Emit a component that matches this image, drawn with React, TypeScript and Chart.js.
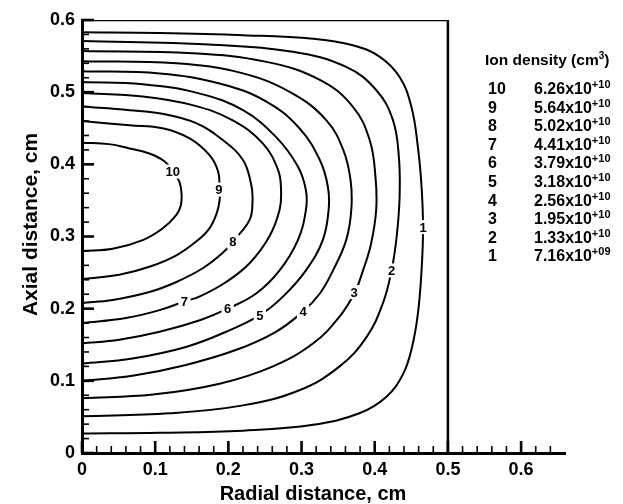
import React, { useEffect, useRef } from "react";
import { Chart, registerables } from "chart.js";

Chart.register(...registerables);

// ---- Data -------------------------------------------------------------
const c1x = [0, 0.106, 0.22, 0.316, 0.37, 0.407, 0.434, 0.45, 0.459, 0.464, 0.466, 0.464, 0.459, 0.451, 0.439, 0.416, 0.379, 0.316, 0.22, 0.106, 0];
const c1y = [0.583, 0.582, 0.579, 0.574, 0.565, 0.549, 0.521, 0.48, 0.424, 0.369, 0.311, 0.253, 0.193, 0.147, 0.11, 0.078, 0.055, 0.039, 0.031, 0.028, 0.027];

const c2x = [0, 0.174, 0.288, 0.361, 0.402, 0.425, 0.433, 0.434, 0.43, 0.423, 0.411, 0.389, 0.352, 0.297, 0.22, 0.119, 0];
const c2y = [0.571, 0.566, 0.556, 0.535, 0.503, 0.461, 0.41, 0.355, 0.3, 0.253, 0.207, 0.161, 0.12, 0.087, 0.066, 0.055, 0.051];

const c3x = [0, 0.151, 0.252, 0.325, 0.37, 0.393, 0.401, 0.402, 0.395, 0.384, 0.373, 0.352, 0.316, 0.261, 0.188, 0.097, 0];
const c3y = [0.557, 0.554, 0.542, 0.517, 0.48, 0.434, 0.383, 0.337, 0.29, 0.253, 0.223, 0.189, 0.152, 0.12, 0.096, 0.081, 0.076];

const c4x = [0, 0.129, 0.22, 0.288, 0.334, 0.357, 0.367, 0.368, 0.361, 0.343, 0.325, 0.302, 0.265, 0.211, 0.142, 0.069, 0];
const c4y = [0.543, 0.54, 0.526, 0.498, 0.461, 0.42, 0.378, 0.337, 0.295, 0.253, 0.221, 0.196, 0.168, 0.143, 0.122, 0.107, 0.1];

const c5x = [0, 0.106, 0.188, 0.252, 0.297, 0.325, 0.336, 0.337, 0.329, 0.306, 0.275, 0.243, 0.197, 0.142, 0.069, 0];
const c5y = [0.529, 0.526, 0.512, 0.487, 0.45, 0.406, 0.369, 0.337, 0.295, 0.253, 0.217, 0.191, 0.168, 0.147, 0.131, 0.124];

const c6x = [0, 0.083, 0.161, 0.22, 0.265, 0.295, 0.306, 0.306, 0.295, 0.27, 0.238, 0.199, 0.161, 0.106, 0.051, 0];
const c6y = [0.514, 0.511, 0.498, 0.475, 0.438, 0.397, 0.364, 0.337, 0.295, 0.253, 0.221, 0.2, 0.184, 0.168, 0.157, 0.152];

const c7x = [0, 0.083, 0.151, 0.206, 0.247, 0.268, 0.272, 0.27, 0.256, 0.229, 0.197, 0.161, 0.14, 0.106, 0.06, 0];
const c7y = [0.499, 0.494, 0.482, 0.461, 0.429, 0.392, 0.364, 0.337, 0.3, 0.263, 0.237, 0.217, 0.21, 0.198, 0.187, 0.18];

const c8x = [0, 0.065, 0.11, 0.156, 0.192, 0.22, 0.231, 0.233, 0.229, 0.206, 0.192, 0.165, 0.129, 0.092, 0.042, 0];
const c8y = [0.48, 0.475, 0.47, 0.457, 0.434, 0.406, 0.373, 0.35, 0.323, 0.293, 0.277, 0.256, 0.237, 0.223, 0.212, 0.208];

const c9x = [0, 0.065, 0.11, 0.147, 0.174, 0.186, 0.188, 0.188, 0.184, 0.174, 0.156, 0.129, 0.092, 0.051, 0];
const c9y = [0.46, 0.454, 0.45, 0.436, 0.413, 0.39, 0.365, 0.35, 0.332, 0.311, 0.293, 0.274, 0.258, 0.247, 0.241];

const c10x = [0, 0.037, 0.065, 0.092, 0.113, 0.124, 0.133, 0.136, 0.135, 0.129, 0.11, 0.083, 0.042, 0];
const c10y = [0.43, 0.428, 0.422, 0.415, 0.404, 0.39, 0.376, 0.36, 0.343, 0.33, 0.311, 0.295, 0.283, 0.28];

const contourXs = [c1x, c2x, c3x, c4x, c5x, c6x, c7x, c8x, c9x, c10x];
const contourYs = [c1y, c2y, c3y, c4y, c5y, c6y, c7y, c8y, c9y, c10y];

// inline contour labels (level number and where it sits on its line)
const labelText = ["1", "2", "3", "4", "5", "6", "7", "8", "9", "10"];
const labelX = [0.466, 0.423, 0.372, 0.302, 0.243, 0.199, 0.14, 0.206, 0.187, 0.124];
const labelY = [0.313, 0.253, 0.223, 0.196, 0.191, 0.2, 0.21, 0.293, 0.365, 0.39];

// domain frame (top edge and right wall)
const frameX = [0, 0.5, 0.5];
const frameY = [0.6, 0.6, 0];

// legend table
const legendLevels = ["10", "9", "8", "7", "6", "5", "4", "3", "2", "1"];
const legendMantissa = ["6.26x10", "5.64x10", "5.02x10", "4.41x10", "3.79x10", "3.18x10", "2.56x10", "1.95x10", "1.33x10", "7.16x10"];
const legendExponent = ["+10", "+10", "+10", "+10", "+10", "+10", "+10", "+10", "+10", "+09"];

// axes
const xMajorTicks = [0, 0.1, 0.2, 0.3, 0.4, 0.5, 0.6];
const xMinorTicks = [0.02, 0.04, 0.06, 0.08, 0.12, 0.14, 0.16, 0.18, 0.22, 0.24, 0.26, 0.28, 0.32, 0.34, 0.36, 0.38, 0.42, 0.44, 0.46, 0.48, 0.52, 0.54, 0.56, 0.58, 0.62, 0.64];
const yMajorTicks = [0, 0.1, 0.2, 0.3, 0.4, 0.5, 0.6];
const yMinorTicks = [0.02, 0.04, 0.06, 0.08, 0.12, 0.14, 0.16, 0.18, 0.22, 0.24, 0.26, 0.28, 0.32, 0.34, 0.36, 0.38, 0.42, 0.44, 0.46, 0.48, 0.52, 0.54, 0.56, 0.58];
const xTitle = "Radial distance, cm";
const yTitle = "Axial distance, cm";

const FONT = '"Liberation Sans", Arial, Helvetica, sans-serif';

const inwardTicks = {
  id: "inwardTicks",
  afterDraw(chart: any) {
    const { ctx, chartArea, scales } = chart;
    const xs = scales.x;
    const ys = scales.y;
    ctx.save();
    ctx.strokeStyle = "#000";
    ctx.lineCap = "butt";
    const drawX = (vals: number[], len: number, w: number) => {
      ctx.lineWidth = w;
      vals.forEach((v) => {
        const px = xs.getPixelForValue(v);
        ctx.beginPath();
        ctx.moveTo(px, chartArea.bottom);
        ctx.lineTo(px, chartArea.bottom - len);
        ctx.stroke();
      });
    };
    const drawY = (vals: number[], len: number, w: number) => {
      ctx.lineWidth = w;
      vals.forEach((v) => {
        const py = ys.getPixelForValue(v);
        ctx.beginPath();
        ctx.moveTo(chartArea.left, py);
        ctx.lineTo(chartArea.left + len, py);
        ctx.stroke();
      });
    };
    drawX(xMinorTicks, 7, 1.6);
    drawX(xMajorTicks, 12, 2.6);
    drawY(yMinorTicks, 7, 1.6);
    drawY(yMajorTicks, 12, 2.6);

    // axis titles
    ctx.fillStyle = "#000";
    ctx.font = `bold 20px ${FONT}`;
    ctx.textAlign = "center";
    ctx.textBaseline = "alphabetic";
    ctx.fillText(xTitle, chartArea.left + 231, chartArea.bottom + 47);
    ctx.translate(chartArea.left - 45, (chartArea.top + chartArea.bottom) / 2 - 12);
    ctx.rotate(-Math.PI / 2);
    ctx.font = `bold 21px ${FONT}`;
    ctx.fillText(yTitle, 0, 0);
    ctx.restore();
  },
};

const contourLabels = {
  id: "contourLabels",
  afterDatasetsDraw(chart: any) {
    const { ctx, scales } = chart;
    ctx.save();
    ctx.font = `bold 13px ${FONT}`;
    ctx.textAlign = "center";
    ctx.textBaseline = "middle";
    labelText.forEach((t, i) => {
      const px = scales.x.getPixelForValue(labelX[i]);
      const py = scales.y.getPixelForValue(labelY[i]);
      const w = ctx.measureText(t).width + 5;
      ctx.fillStyle = "#fff";
      ctx.fillRect(px - w / 2, py - 7, w, 14);
      ctx.fillStyle = "#000";
      ctx.fillText(t, px, py + 1);
    });
    ctx.restore();
  },
};

export default function App() {
  const canvasRef = useRef<HTMLCanvasElement | null>(null);

  useEffect(() => {
    if (!canvasRef.current) return;
    const datasets: any[] = contourXs.map((xs, i) => ({
      label: `level ${i + 1}`,
      data: xs.map((x, j) => ({ x, y: contourYs[i][j] })),
      showLine: true,
      borderColor: "#000",
      borderWidth: 2,
      pointRadius: 0,
      tension: 0.4,
      fill: false,
    }));
    datasets.push({
      label: "frame",
      data: frameX.map((x, j) => ({ x, y: frameY[j] })),
      showLine: true,
      borderColor: "#000",
      borderWidth: 2.5,
      pointRadius: 0,
      tension: 0,
      fill: false,
    });

    const chart = new Chart(canvasRef.current, {
      type: "scatter",
      data: { datasets },
      options: {
        animation: false,
        responsive: false,
        events: [],
        layout: { padding: { left: 0, top: 20, right: 58, bottom: 0 } },
        plugins: { legend: { display: false }, tooltip: { enabled: false } },
        scales: {
          x: {
            type: "linear",
            min: 0,
            max: 0.66,
            afterFit: (s: any) => {
              s.height = 51;
            },
            border: { display: true, color: "#000", width: 3 },
            grid: { display: true, drawOnChartArea: false, drawTicks: false },
            ticks: {
              stepSize: 0.1,
              includeBounds: false,
              padding: 6,
              color: "#000",
              font: { family: FONT, size: 18, weight: "bold" },
              maxRotation: 0,
              callback: (v: any) => (Number(v) === 0 ? "0" : Number(v).toFixed(1)),
            },
          },
          y: {
            type: "linear",
            min: 0,
            max: 0.6,
            afterFit: (s: any) => {
              s.width = 82;
            },
            border: { display: true, color: "#000", width: 3 },
            grid: { display: true, drawOnChartArea: false, drawTicks: false },
            ticks: {
              stepSize: 0.1,
              padding: 7,
              color: "#000",
              font: { family: FONT, size: 18, weight: "bold" },
              callback: (v: any) => (Number(v) === 0 ? "0" : Number(v).toFixed(1)),
            },
          },
        },
      },
      plugins: [contourLabels, inwardTicks],
    });
    return () => chart.destroy();
  }, []);

  const rowTop0 = 80;
  const rowStep = 18.6;

  return (
    <div style={{ position: "absolute", left: 0, top: 0, width: 623, height: 504, background: "#fff" }}>
      <canvas ref={canvasRef} width={623} height={504} style={{ position: "absolute", left: 0, top: 0 }} />
      <div
        style={{
          position: "absolute",
          left: 485,
          top: 51,
          fontFamily: FONT,
          fontWeight: "bold",
          fontSize: 15.5,
          lineHeight: "18px",
          whiteSpace: "nowrap",
          color: "#000",
        }}
      >
        Ion density (cm<sup style={{ fontSize: 10, lineHeight: 0 }}>3</sup>)
      </div>
      {legendLevels.map((lv, i) => (
        <div
          key={lv}
          style={{
            position: "absolute",
            left: 488,
            top: rowTop0 + i * rowStep,
            height: 18,
            fontFamily: FONT,
            fontWeight: "bold",
            fontSize: 16,
            lineHeight: "18px",
            whiteSpace: "nowrap",
            color: "#000",
          }}
        >
          <span style={{ display: "inline-block", width: 46 }}>{lv}</span>
          <span>
            {legendMantissa[i]}
            <sup style={{ fontSize: 11, lineHeight: 0 }}>{legendExponent[i]}</sup>
          </span>
        </div>
      ))}
    </div>
  );
}
